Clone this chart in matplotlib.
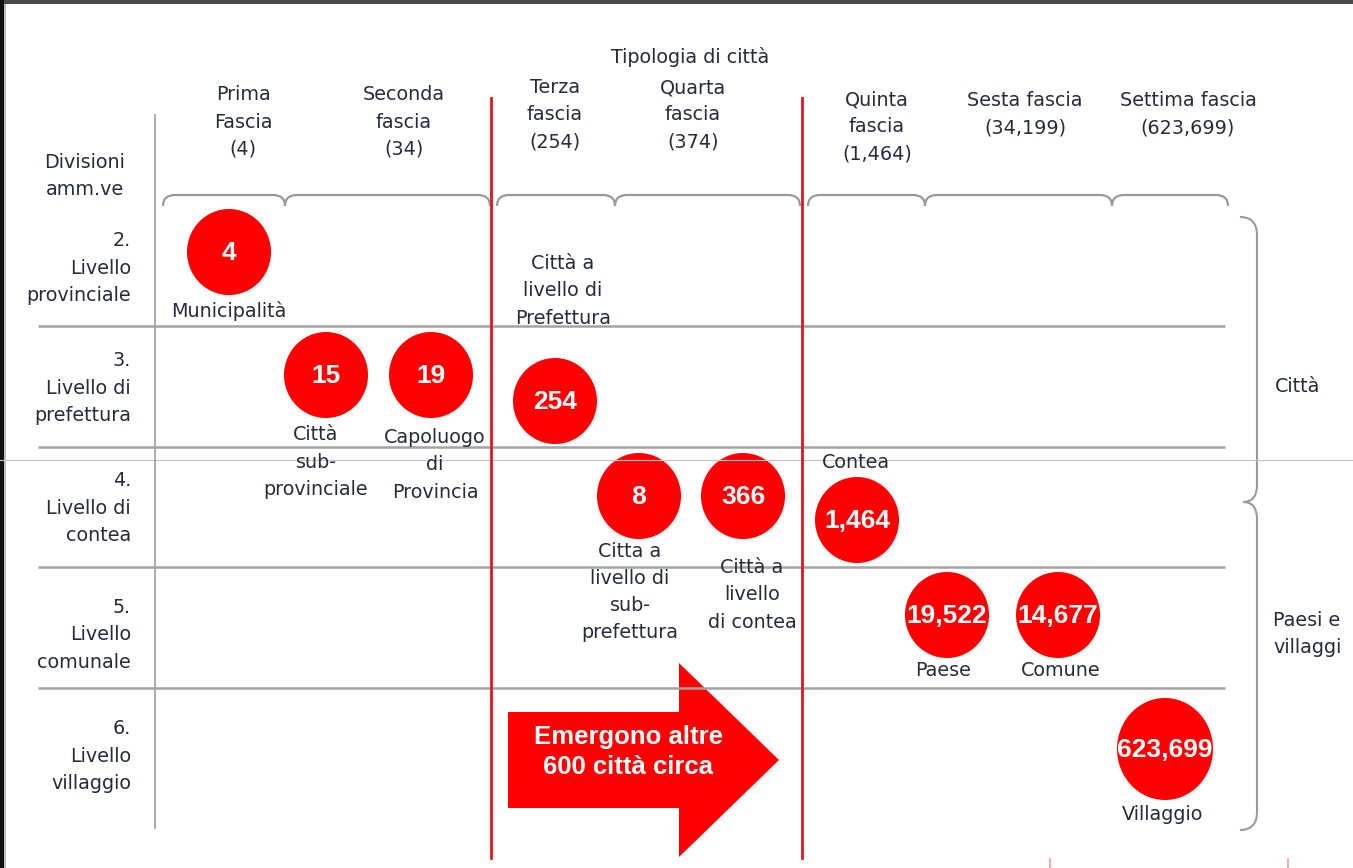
import matplotlib.pyplot as plt
from matplotlib.patches import Ellipse, Polygon, PathPatch, Rectangle
from matplotlib.path import Path

# data
col_names = ['Prima\nFascia', 'Seconda\nfascia', 'Terza\nfascia', 'Quarta\nfascia',
             'Quinta\nfascia', 'Sesta fascia', 'Settima fascia']
col_counts = ['4', '34', '254', '374', '1,464', '34,199', '623,699']
row_levels = ['2.', '3.', '4.', '5.', '6.']
row_names = ['Livello\nprovinciale', 'Livello di\nprefettura', 'Livello di\ncontea',
             'Livello\ncomunale', 'Livello\nvillaggio']
city_values = ['4', '15', '19', '254', '8', '366', '1,464', '19,522', '14,677', '623,699']
city_names = ['Municipalità', 'Città\nsub-\nprovinciale', 'Capoluogo\ndi\nProvincia',
              'Città a\nlivello di\nPrefettura', 'Citta a\nlivello di\nsub-\nprefettura',
              'Città a\nlivello\ndi contea', 'Contea', 'Paese', 'Comune', 'Villaggio']
group_names = ['Città', 'Paesi e\nvillaggi']
arrow_text = 'Emergono altre\n600 città circa'
title = 'Tipologia di città'
corner = 'Divisioni\namm.ve'

# layout (pixel coords, y down)
col_x = [243, 404, 555, 693, 877, 1025, 1188]
col_y = [122, 122, 115, 115, 127, 114, 114]
row_y = [268, 388, 508, 635, 756]
circle_xy = [(229, 252), (326, 375), (431, 375), (555, 401), (639, 496), (743, 496),
             (857, 520), (947, 615), (1058, 615), (1165, 749)]
circle_r = [(42, 43)] * 9 + [(48, 51)]
name_xy = [(229, 311), (316, 462), (435, 465), (563, 291), (630, 592), (752, 595),
           (856, 462), (943, 671), (1061, 671), (1163, 814)]
brackets = [(163, 285), (285, 490), (497, 615), (615, 800), (808, 925), (925, 1112), (1112, 1228)]
row_lines = [326, 447, 567, 688]

RED = '#ff0000'
TXT = '#272c3c'
GREY = '#a3a3a3'
LBL = dict(family='DejaVu Sans', fontsize=13.8, color=TXT, linespacing=1.55)

fig = plt.figure(figsize=(13.53, 8.68), dpi=100)
ax = fig.add_axes([0, 0, 1, 1])
ax.set_xlim(0, 1353)
ax.set_ylim(868, 0)
ax.axis('off')

# screenshot frame
ax.add_patch(Rectangle((0, 0), 1353, 3.5, color='#4a4a4a', lw=0))
ax.add_patch(Rectangle((0, 0), 3.5, 868, color='#111111', lw=0))
ax.add_patch(Rectangle((3.5, 3.5), 2.5, 865, color='#bdbdbd', lw=0))
ax.plot([0, 1353], [460, 460], color='#c4c4c4', lw=0.8)

# grid lines
for y in row_lines:
    ax.plot([38, 1225], [y, y], color=GREY, lw=1.8, solid_capstyle='butt')
ax.plot([155, 155], [115, 828], color=GREY, lw=1.3)
for x in [491, 802]:
    ax.plot([x, x], [98, 858], color='#e8121a', lw=2.0)

# top brackets
for x0, x1 in brackets:
    verts = [(x0, 206), (x0, 195), (x0 + 12, 195), (x1 - 12, 195), (x1, 195), (x1, 206)]
    codes = [Path.MOVETO, Path.CURVE3, Path.CURVE3, Path.LINETO, Path.CURVE3, Path.CURVE3]
    ax.add_patch(PathPatch(Path(verts, codes), fill=False, ec='#9a9a9a', lw=1.6))

# right brace
verts = [(1240, 217), (1257, 217), (1257, 235), (1257, 485), (1257, 502), (1243, 502),
         (1257, 502), (1257, 519), (1257, 812), (1257, 830), (1240, 830)]
codes = [Path.MOVETO, Path.CURVE3, Path.CURVE3, Path.LINETO, Path.CURVE3, Path.CURVE3,
         Path.CURVE3, Path.CURVE3, Path.LINETO, Path.CURVE3, Path.CURVE3]
ax.add_patch(PathPatch(Path(verts, codes), fill=False, ec='#9a9a9a', lw=1.5))

# headers
ax.text(690, 57, title, ha='center', va='center', **LBL)
for x, y, n, c in zip(col_x, col_y, col_names, col_counts):
    ax.text(x, y, n + '\n(' + c + ')', ha='center', va='center', multialignment='center', **LBL)
ax.text(85, 176, corner, ha='center', va='center', multialignment='center', **LBL)
for y, lv, nm in zip(row_y, row_levels, row_names):
    ax.text(131, y, lv + '\n' + nm, ha='right', va='center', multialignment='right', **LBL)

# circles
for (x, y), (rx, ry), v in zip(circle_xy, circle_r, city_values):
    ax.add_patch(Ellipse((x, y), 2 * rx, 2 * ry, color=RED, lw=0))
    ax.text(x, y + 1, v, ha='center', va='center', color='white', fontsize=19,
            family='Liberation Sans', fontweight='bold')
for (x, y), n in zip(name_xy, city_names):
    ax.text(x, y, n, ha='center', va='center', multialignment='center', **LBL)

# groups
ax.text(1275, 387, group_names[0], ha='left', va='center', **LBL)
ax.text(1273, 634, group_names[1], ha='left', va='center', **LBL)

# arrow
ax.add_patch(Polygon([(508, 712), (679, 712), (679, 663), (779, 760), (679, 857),
                      (679, 808), (508, 808)], closed=True, color=RED, lw=0))
ax.text(628, 752, arrow_text, ha='center', va='center', color='white', fontsize=18.5,
        family='Liberation Sans', fontweight='bold', linespacing=1.3)

# small marks at bottom edge
for x in [1050, 1288]:
    ax.plot([x, x], [859, 868], color='#ff9a9a', lw=1.2)

fig.savefig('out.png', dpi=100, facecolor='white')
